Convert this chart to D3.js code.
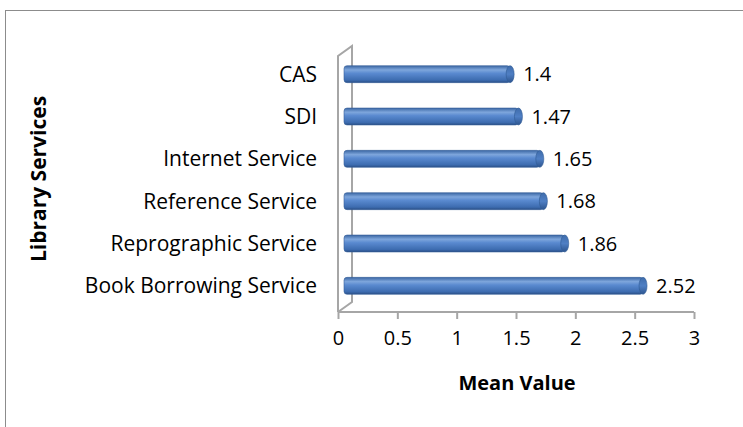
<!DOCTYPE html>
<html>
<head>
<meta charset="utf-8">
<script src="https://cdn.jsdelivr.net/npm/d3@7"></script>
<style>
  body { margin: 0; background: #fff; }
  text { font-family: "Open Sans", "Liberation Sans", sans-serif; }
</style>
</head>
<body>
<div id="chart"></div>
<script>
// chart data
var services = ["CAS", "SDI", "Internet Service", "Reference Service", "Reprographic Service", "Book Borrowing Service"];
var meanValues = [1.4, 1.47, 1.65, 1.68, 1.86, 2.52];
var xTicks = [0, 0.5, 1, 1.5, 2, 2.5, 3];

var svgWidth = 743;
var svgHeight = 427;

var svg = d3.select("#chart")
    .append("svg")
    .attr("width", svgWidth)
    .attr("height", svgHeight);

// outer frame
svg.append("rect")
    .attr("x", 5.5)
    .attr("y", 10.5)
    .attr("width", 760)
    .attr("height", 440)
    .attr("fill", "none")
    .attr("stroke", "#8c8c8c")
    .attr("stroke-width", 1);

var depthX = 14, depthY = 10;

var xScale = d3.scaleLinear()
    .domain([0, 3])
    .range([338, 694]);

var yScale = d3.scaleBand()
    .domain(services)
    .range([53, 307])
    .paddingInner(0.6)
    .paddingOuter(0.3);

// gradient for cylinder bars
var defs = svg.append("defs");
var grad = defs.append("linearGradient")
    .attr("id", "barGrad")
    .attr("x1", 0).attr("y1", 0).attr("x2", 0).attr("y2", 1);
grad.append("stop").attr("offset", "0%").attr("stop-color", "#3a66a3");
grad.append("stop").attr("offset", "25%").attr("stop-color", "#7ea6dc");
grad.append("stop").attr("offset", "45%").attr("stop-color", "#5a8ad0");
grad.append("stop").attr("offset", "85%").attr("stop-color", "#3d6cb0");
grad.append("stop").attr("offset", "100%").attr("stop-color", "#2a4f86");

var capGrad = defs.append("linearGradient")
    .attr("id", "capGrad")
    .attr("x1", 0).attr("y1", 0).attr("x2", 0).attr("y2", 1);
capGrad.append("stop").attr("offset", "0%").attr("stop-color", "#3f6cab");
capGrad.append("stop").attr("offset", "50%").attr("stop-color", "#4f7fc4");
capGrad.append("stop").attr("offset", "100%").attr("stop-color", "#2d558f");

// 3D wall and floor
var wallColor = "#a6a6a6";
var x0 = xScale(0);
var wallTop = 56, wallBottom = 312;
svg.append("path")
    .attr("d", `M${x0},${wallBottom} L${x0},${wallTop} L${x0 + depthX},${wallTop - depthY} L${x0 + depthX},${wallBottom - depthY} L${x0},${wallBottom}`)
    .attr("fill", "none")
    .attr("stroke", wallColor)
    .attr("stroke-width", 2);

// bottom axis
var bottomAxis = d3.axisBottom(xScale)
    .tickValues(xTicks)
    .tickSize(7)
    .tickFormat(d3.format(""));

var axisG = svg.append("g")
    .attr("transform", `translate(0, ${wallBottom})`)
    .call(bottomAxis);
axisG.select(".domain").attr("stroke", wallColor).attr("stroke-width", 2)
    .attr("d", `M${x0},0H${xScale(3)}`);
axisG.selectAll(".tick line").attr("stroke", wallColor).attr("stroke-width", 2);
axisG.selectAll(".tick text")
    .attr("y", 19)
    .attr("fill", "#000")
    .style("font-size", "20px");

// bars as cylinders
var barOffset = 8;
var bars = svg.append("g")
    .selectAll("g")
    .data(services)
    .enter()
    .append("g");

bars.append("rect")
    .attr("x", xScale(0) + barOffset - 2)
    .attr("y", d => yScale(d))
    .attr("width", (d, i) => xScale(meanValues[i]) - xScale(0))
    .attr("height", yScale.bandwidth())
    .attr("rx", 3)
    .attr("fill", "url(#barGrad)")
    .attr("stroke", "#355f9a")
    .attr("stroke-width", 0.6);

bars.append("ellipse")
    .attr("cx", (d, i) => xScale(meanValues[i]) + barOffset - 2)
    .attr("cy", d => yScale(d) + yScale.bandwidth() / 2)
    .attr("rx", 4)
    .attr("ry", yScale.bandwidth() / 2)
    .attr("fill", "url(#capGrad)")
    .attr("stroke", "#2f5a94")
    .attr("stroke-width", 0.6);

// value labels
bars.append("text")
    .attr("x", (d, i) => xScale(meanValues[i]) + barOffset + 11)
    .attr("y", d => yScale(d) + yScale.bandwidth() / 2)
    .attr("dy", "0.35em")
    .style("font-size", "20px")
    .text((d, i) => meanValues[i]);

// category labels
svg.append("g")
    .selectAll("text")
    .data(services)
    .enter()
    .append("text")
    .attr("x", 317)
    .attr("y", d => yScale(d) + yScale.bandwidth() / 2)
    .attr("dy", "0.35em")
    .attr("text-anchor", "end")
    .style("font-size", "21px")
    .text(d => d);

// axis titles
svg.append("text")
    .attr("x", 517)
    .attr("y", 390)
    .attr("text-anchor", "middle")
    .style("font-size", "20px")
    .style("font-weight", "bold")
    .text("Mean Value");

svg.append("text")
    .attr("transform", "translate(46, 179) rotate(-90)")
    .attr("text-anchor", "middle")
    .style("font-size", "21px")
    .style("font-weight", "bold")
    .text("Library Services");
</script>
</body>
</html>
